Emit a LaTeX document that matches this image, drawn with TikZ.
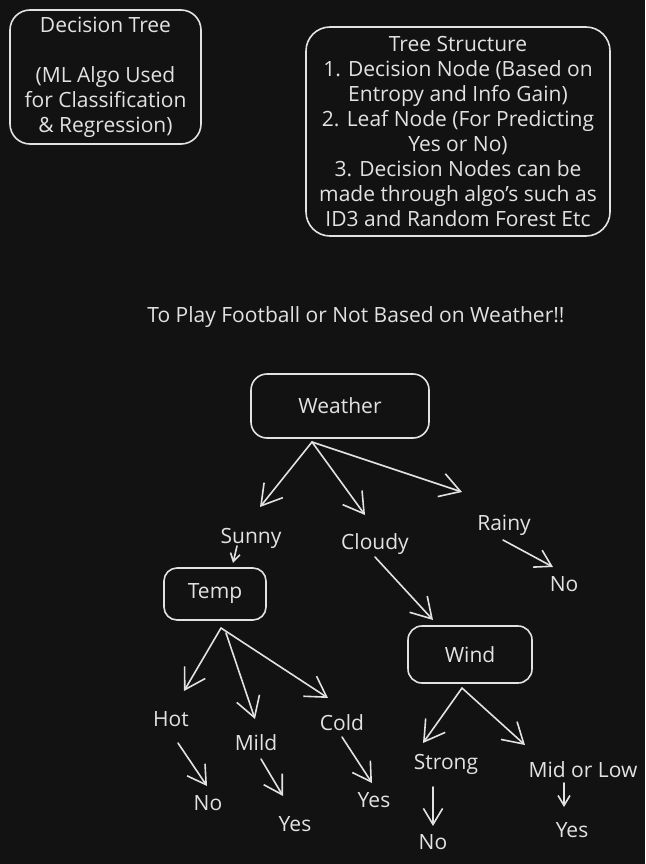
\documentclass[tikz,border=0pt]{standalone}
\usepackage{fontspec}
\setmainfont{Open Sans}
\usetikzlibrary{arrows.meta,calc}
\definecolor{bg}{HTML}{121212}
\definecolor{fg}{HTML}{E2E2E2}
\tikzset{
  txt/.style={text=fg, font=\fontsize{21}{25}\selectfont, inner sep=0pt, align=center},
  boxed/.style={draw=fg, line width=1.6pt, text=fg, font=\fontsize{21}{25}\selectfont, align=center, inner sep=0pt},
  arr/.style={draw=fg, line width=1.6pt, line cap=round, -{Straight Barb[length=#1,width=1.2*#1,line width=1.6pt]}},
  arr/.default=15pt
}
\begin{document}
\begin{tikzpicture}[x=1pt,y=-1pt]
\fill[bg] (0,0) rectangle (645,864);
\useasboundingbox (0,0) rectangle (645,864);

% info boxes
\node[boxed, minimum width=191pt, minimum height=134pt, rounded corners=20pt] (intro) at (105.5,77)
  {Decision Tree\\[25pt](ML Algo Used\\for Classification\\\& Regression)};
\node[boxed, minimum width=304pt, minimum height=209pt, rounded corners=24pt] (struct) at (458,131.5)
  {Tree Structure\\1. Decision Node (Based on\\Entropy and Info Gain)\\2. Leaf Node (For Predicting\\Yes or No)\\3. Decision Nodes can be\\made through algo's such as\\ID3 and Random Forest Etc};

\node[txt] (title) at (356,317) {To Play Football or Not Based on Weather!!};

% decision nodes
\node[boxed, minimum width=178pt, minimum height=64pt, rounded corners=16pt] (weather) at (340,406) {Weather};
\node[boxed, minimum width=102pt, minimum height=52pt, rounded corners=13pt] (temp) at (215,594) {Temp};
\node[boxed, minimum width=124pt, minimum height=57pt, rounded corners=14pt] (wind) at (470,654.5) {Wind};

% labels
\node[txt] (sunny) at (251,538) {Sunny};
\node[txt] (cloudy) at (375,544) {Cloudy};
\node[txt] (rainy) at (504,525) {Rainy};
\node[txt] (no1) at (564,584) {No};
\node[txt] (hot) at (171,719) {Hot};
\node[txt] (mild) at (256,743) {Mild};
\node[txt] (cold) at (342,723) {Cold};
\node[txt] (no2) at (208,803) {No};
\node[txt] (yes1) at (295,824) {Yes};
\node[txt] (yes2) at (374,800) {Yes};
\node[txt] (strong) at (446,764) {Strong};
\node[txt] (midlow) at (583,770) {Mid or Low};
\node[txt] (no3) at (433,842) {No};
\node[txt] (yes3) at (572,830) {Yes};

% connector end points
\coordinate (wS) at (312,442);
\coordinate (sunnyT) at (260,507);
\coordinate (cloudyT) at (365,515);
\coordinate (rainyT) at (462,492);
\coordinate (sunnyB) at (237,546);
\coordinate (tempT) at (233,563);
\coordinate (cloudyB) at (375,557);
\coordinate (windT) at (433,620);
\coordinate (rainyB) at (503,540);
\coordinate (no1T) at (553,567);
\coordinate (tS) at (221,628);
\coordinate (tS2) at (226,633);
\coordinate (hotT) at (184,691);
\coordinate (mildT) at (255,719);
\coordinate (coldT) at (328,698);
\coordinate (hotB) at (178,743);
\coordinate (no2T) at (207,786);
\coordinate (mildB) at (261,759);
\coordinate (yes1T) at (283,796);
\coordinate (coldB) at (342,737);
\coordinate (yes2T) at (372,783);
\coordinate (wiS) at (462,688);
\coordinate (strongT) at (423,743);
\coordinate (midT) at (525,745);
\coordinate (strongB) at (433,787);
\coordinate (no3T) at (433,826);
\coordinate (midB) at (564,783);
\coordinate (yes3T) at (564,807);

% connectors
\draw[arr=20pt] (wS) -- (sunnyT);
\draw[arr=20pt] (wS) -- (cloudyT);
\draw[arr=20pt] (wS) -- (rainyT);
\draw[arr=8pt] (sunnyB) -- (tempT);
\draw[arr=20pt] (cloudyB) -- (windT);
\draw[arr=16pt] (rainyB) -- (no1T);
\draw[arr=20pt] (tS) -- (hotT);
\draw[arr=20pt] (tS2) -- (mildT);
\draw[arr=20pt] (tS) -- (coldT);
\draw[arr=18pt] (hotB) -- (no2T);
\draw[arr=18pt] (mildB) -- (yes1T);
\draw[arr=18pt] (coldB) -- (yes2T);
\draw[arr=20pt] (wiS) -- (strongT);
\draw[arr=20pt] (wiS) -- (midT);
\draw[arr=16pt] (strongB) -- (no3T);
\draw[arr=10pt] (midB) -- (yes3T);
\end{tikzpicture}
\end{document}
